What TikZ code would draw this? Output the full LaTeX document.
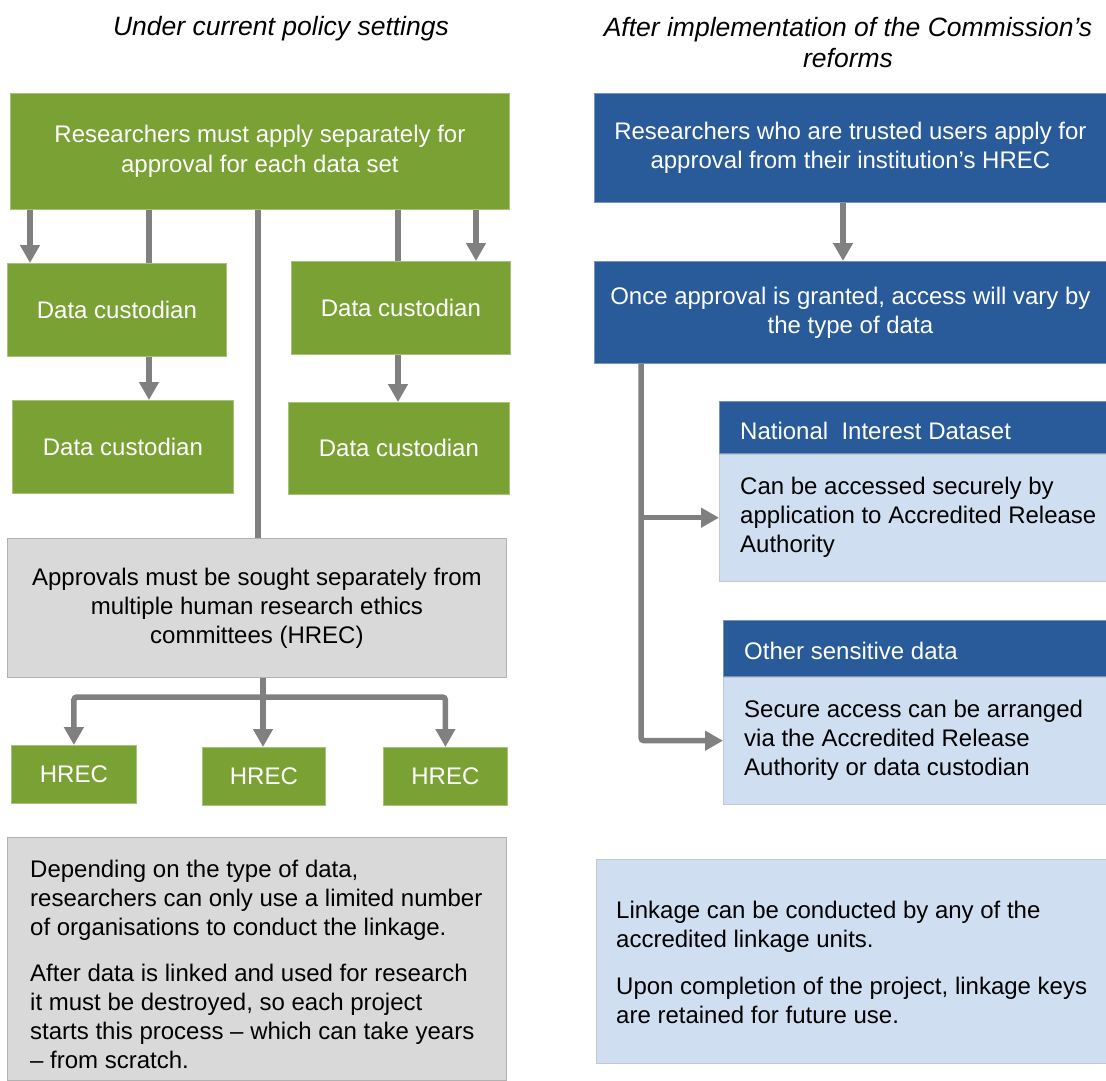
\documentclass[tikz,border=0pt]{standalone}
\usepackage{fontspec}
\setmainfont{Liberation Sans}
\usetikzlibrary{arrows.meta,positioning}
\definecolor{pcgreen}{RGB}{122,161,51}
\definecolor{pcblue}{RGB}{41,91,154}
\definecolor{pclight}{RGB}{207,222,241}
\definecolor{pcgrey}{RGB}{217,217,217}
\definecolor{pcline}{RGB}{128,128,128}

\begin{document}
\begin{tikzpicture}[x=1pt,y=-1pt,
  font=\fontsize{24}{29}\selectfont,
  >={Triangle[width=19pt,length=18pt]},
  gbox/.style={fill=pcgreen,draw=pcgreen!65!white,line width=.8pt,text=white,align=center,anchor=north west,inner sep=0pt},
  bbox/.style={fill=pcblue,draw=pcblue!65!white,line width=.8pt,text=white,align=center,anchor=north west,inner sep=0pt},
  lbox/.style={fill=pclight,draw=black!22,line width=.8pt,anchor=north west,inner sep=0pt},
  gybox/.style={fill=pcgrey,draw=black!30,line width=.8pt,align=center,anchor=north west,inner sep=0pt},
  txt/.style={anchor=west,align=left,inner sep=0pt},
  ttl/.style={font=\fontsize{26.5}{31}\selectfont\itshape,align=center},
  conn/.style={draw=pcline,line width=5.5pt,rounded corners=3pt}]
\useasboundingbox (0,0) rectangle (1106,1080);

% titles
\node[ttl] (ttlold) at (281,29) {Under current policy settings};
\node[ttl] (ttlnew) at (848,42.5) {After implementation of the Commission’s\\reforms};

% current settings
\node[gbox,minimum width=499,minimum height=116] (apply) at (10,93) {Researchers must apply separately for\\[1pt]approval for each data set};
\node[gbox,minimum width=219,minimum height=93] (dc1) at (7,263) {Data custodian};
\node[gbox,minimum width=221,minimum height=93] (dc2) at (12,400) {Data custodian};
\node[gbox,minimum width=219,minimum height=93] (dc3) at (291,261) {Data custodian};
\node[gbox,minimum width=221,minimum height=92] (dc4) at (288,402) {Data custodian};
\node[gybox,minimum width=499,minimum height=139] (approvals) at (7,538) {Approvals must be sought separately from\\multiple human research ethics\\committees (HREC)};
\node[gbox,minimum width=125,minimum height=58] (hrec1) at (11,745) {HREC};
\node[gbox,minimum width=123,minimum height=58] (hrec2) at (202,747) {HREC};
\node[gbox,minimum width=124,minimum height=58] (hrec3) at (383,747) {HREC};
\node[gybox,minimum width=499,minimum height=243] (linkold) at (7,837) {};
\node[txt] (linkoldtxt) at (30,964) {Depending on the type of data,\\researchers can only use a limited number\\of organisations to conduct the linkage.\\[17pt]After data is linked and used for research\\it must be destroyed, so each project\\starts this process – which can take years\\– from scratch.};

% after reforms
\node[bbox,minimum width=512,minimum height=109] (trusted) at (594,93) {Researchers who are trusted users apply for\\approval from their institution’s HREC};
\node[bbox,minimum width=512,minimum height=102] (vary) at (594,261) {Once approval is granted, access will vary by\\the type of data};
\node[bbox,minimum width=387,minimum height=52] (nidhead) at (719,401) {};
\node[lbox,minimum width=387,minimum height=127,below=0pt of nidhead] (nidbody) {};
\node[txt,text=white] (nidtitle) at ([xshift=21,yshift=-4]nidhead.west) {National\ \ Interest Dataset};
\node[txt] (nidtxt) at ([xshift=21]nidbody.west) {Can be accessed securely by\\application to Accredited Release\\Authority};
\node[bbox,minimum width=383,minimum height=56] (othhead) at (723,620) {};
\node[lbox,minimum width=383,minimum height=127,below=0pt of othhead] (othbody) {};
\node[txt,text=white] (othtitle) at ([xshift=21,yshift=-3]othhead.west) {Other sensitive data};
\node[txt] (othtxt) at ([xshift=21]othbody.west) {Secure access can be arranged\\via the Accredited Release\\Authority or data custodian};
\node[lbox,minimum width=510,minimum height=204] (linknew) at (596,859) {};
\node[txt] (linknewtxt) at (616,962) {Linkage can be conducted by any of the\\accredited linkage units.\\[18pt]Upon completion of the project, linkage keys\\are retained for future use.};

% connector columns
\coordinate (xa) at (30,0);
\coordinate (xb) at (149,0);
\coordinate (xc) at (258,0);
\coordinate (xd) at (398,0);
\coordinate (xe) at (476,0);
\coordinate (xm) at (843,0);
\coordinate (xr) at (641,0);
\coordinate (split) at (263,697);

\draw[conn,->] (apply.south -| xa) -- (dc1.north -| xa);
\draw[conn] (apply.south -| xb) -- (dc1.north -| xb);
\draw[conn,->] (dc1.south -| xb) -- (dc2.north -| xb);
\draw[conn] (apply.south -| xc) -- (approvals.north -| xc);
\draw[conn] (apply.south -| xd) -- (dc3.north -| xd);
\draw[conn,->] (dc3.south -| xd) -- (dc4.north -| xd);
\draw[conn,->] (apply.south -| xe) -- (dc3.north -| xe);
\draw[conn] (approvals.south -| split) -- (split);
\draw[conn,->] (split) -| (hrec1.north);
\draw[conn,->] (split) -- (hrec2.north -| split);
\draw[conn,->] (split) -| (hrec3.north);

\draw[conn,->] (trusted.south -| xm) -- (vary.north -| xm);
\draw[conn,->] (vary.south -| xr) |- (othbody.west);
\draw[conn,->] (xr |- nidbody.west) -- (nidbody.west);
\end{tikzpicture}
\end{document}
